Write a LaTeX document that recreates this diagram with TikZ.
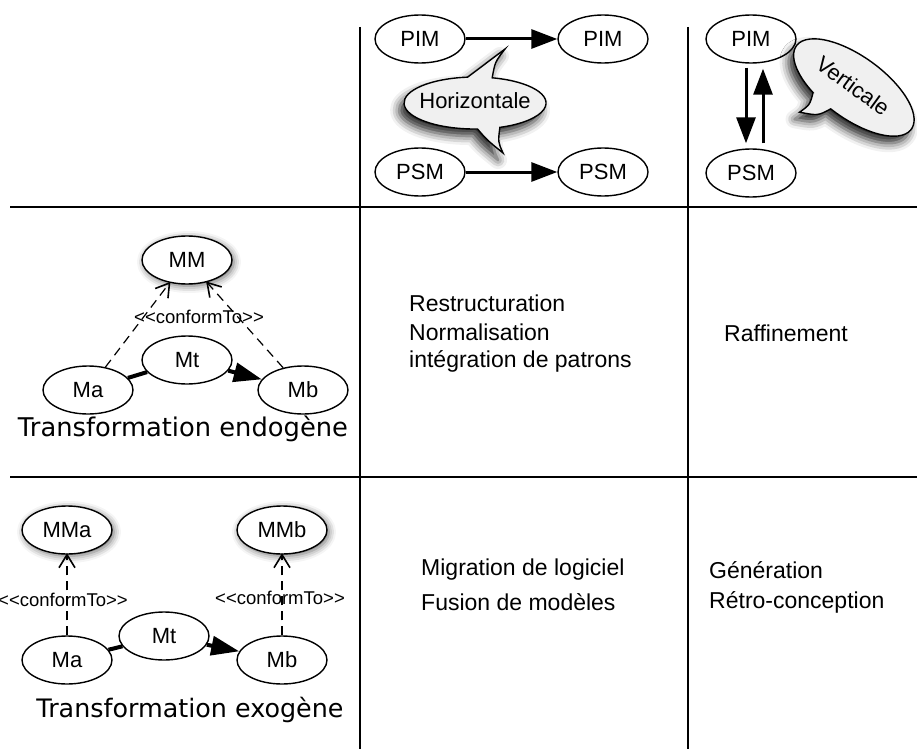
\documentclass[tikz,border=0pt]{standalone}
\usepackage{fontspec}
\setmainfont{Liberation Sans}
\newfontfamily\titlefont{DejaVu Sans}
\usetikzlibrary{shapes.geometric,arrows.meta,shadows.blur,decorations.markings}
\newcommand{\ctlabel}{<\kern0pt<conformTo>\kern0pt>}
\begin{document}
\begin{tikzpicture}[x=1pt,y=-1pt,
  gridline/.style={line width=1.5pt},
  ell/.style={ellipse, draw, line width=1.4pt, fill=white, minimum width=90pt, minimum height=48pt, inner sep=0pt, font=\fontsize{22}{24}\selectfont},
  shad/.style={blur shadow={shadow xshift=2pt, shadow yshift=-2pt, shadow blur radius=7pt, shadow opacity=60}},
  bigarrow/.style={opacity=1, line width=3pt, -{Triangle[length=26pt,width=19pt,fill=black]}},
  thickline/.style={opacity=1, line width=4pt},
  thickarrow/.style={opacity=1, line width=4pt, -{Triangle[length=28pt,width=19pt,fill=black]}},
  confarrow/.style={opacity=1, dash pattern=on 9pt off 6pt, line width=1.2pt,
    postaction={decorate, decoration={markings, mark=at position 1 with {\draw[solid, opacity=1, line width=1.6pt, line join=miter] (-13pt,-8pt) -- (0pt,0pt) -- (-13pt,8pt);}}}},
  bubble/.style={draw, line width=1.4pt, fill=gray!12},
  bubshadow/.style={blur shadow={shadow xshift=-5pt, shadow yshift=-7pt, shadow blur radius=9pt, shadow opacity=85}},
  bubtext/.style={font=\fontsize{22}{24}\selectfont},
  celltext/.style={font=\fontsize{23}{26}\selectfont, inner sep=0pt},
  small/.style={font=\fontsize{18.5}{20}\selectfont, inner sep=0pt},
  bigtitle/.style={inner sep=0pt}
]
\useasboundingbox (0,0) rectangle (917,749);

% table lines
\draw[gridline] (360,27) -- (360,749);
\draw[gridline] (688,27) -- (688,749);
\draw[gridline] (10,207) -- (917,207);
\draw[gridline] (10,477) -- (917,477);

% top middle cell
\node[ell] (pimA) at (420,39) {PIM};
\node[ell] (pimB) at (603,39) {PIM};
\node[ell] (psmA) at (420,172) {PSM};
\node[ell] (psmB) at (603,172) {PSM};
\draw[bigarrow] (pimA) -- (pimB);
\draw[bigarrow] (psmA) -- (psmB);

% Horizontale bubble
\path[bubble, bubshadow] (492.2,77.8)
  arc[start angle=-76, end angle=69.5, x radius=71, y radius=26]
  .. controls (498,142) .. (503,153)
  .. controls (487,140) .. (477.5,129)
  arc[start angle=88, end angle=264, x radius=71, y radius=26]
  .. controls (486,64) .. (505,49)
  .. controls (495,62) .. cycle;
\node[bubtext] (horiz) at (475,101) {Horizontale};

% top right cell
\node[ell] (pimC) at (751,39) {PIM};
\node[ell] (psmC) at (751,173) {PSM};
\draw[bigarrow, shorten <=4pt, shorten >=5pt] ([xshift=-5pt]pimC.south) -- ([xshift=-5pt]psmC.north);
\draw[bigarrow, shorten <=5pt, shorten >=5pt] ([xshift=12pt]psmC.north) -- ([xshift=12pt]pimC.south);

% Verticale bubble
\begin{scope}[shift={(853,88)}, rotate=-36]
\path[bubble, bubshadow] (-29.6,27.2)
  arc[start angle=115, end angle=455, x radius=71, y radius=31]
  .. controls (-12,43) .. (-29,51)
  .. controls (-25,39) .. cycle;
\end{scope}
\node[bubtext, rotate=-36] (vert) at (853,86) {Verticale};

% endogene
\node[ell, shad] (MM) at (187,260) {MM};
\node[ell] (Mt1) at (187,360) {Mt};
\node[ell] (Ma1) at (88,390) {Ma};
\node[ell] (Mb1) at (303,390) {Mb};
\draw[thickline] (Ma1) -- (Mt1);
\draw[thickarrow] (Mt1) -- (Mb1);
\draw[confarrow] (Ma1) -- (MM);
\draw[confarrow] (Mb1) -- (MM);
\node[small] (c1) at (199,317) {\ctlabel};
\node[bigtitle] (t1) at (183,429) {\resizebox{330pt}{!}{\titlefont Transformation endogène}};

% exogene
\node[ell, shad] (MMa) at (67,530) {MMa};
\node[ell, shad] (MMb) at (282,530) {MMb};
\node[ell] (Ma2) at (67,660) {Ma};
\node[ell] (Mt2) at (164,636) {Mt};
\node[ell] (Mb2) at (282,660) {Mb};
\draw[thickline] (Ma2) -- (Mt2);
\draw[thickarrow] (Mt2) -- (Mb2);
\draw[confarrow] (Ma2) -- (MMa);
\draw[confarrow] (Mb2) -- (MMb);
\node[small] (c2) at (63,600) {\ctlabel};
\node[small] (c3) at (280,598) {\ctlabel};
\node[bigtitle] (t2) at (190,710) {\resizebox{307pt}{!}{\titlefont Transformation exogène}};

% middle texts
\node[celltext, anchor=west] (r1) at (409,303) {Restructuration};
\node[celltext, anchor=west] (r2) at (409,332) {Normalisation};
\node[celltext, anchor=west] (r3) at (409,361) {intégration de patrons};
\node[celltext] (r4) at (786,333) {Raffinement};
\node[celltext, anchor=west] (g1) at (421,570) {Migration de logiciel};
\node[celltext, anchor=west] (g2) at (421,602) {Fusion de modèles};
\node[celltext, anchor=west] (g3) at (709,570) {Génération};
\node[celltext, anchor=west] (g4) at (709,602) {Rétro-conception};
\end{tikzpicture}
\end{document}
